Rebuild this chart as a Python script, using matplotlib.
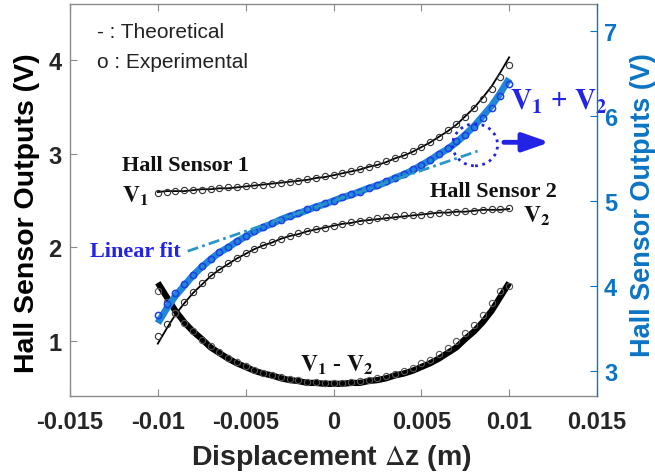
import numpy as np
import matplotlib
matplotlib.use("Agg")
import matplotlib.pyplot as plt
from matplotlib.patches import Ellipse

plt.rcParams['font.family'] = ['Liberation Sans', 'DejaVu Sans']
plt.rcParams['axes.unicode_minus'] = False
plt.rcParams['mathtext.fontset'] = 'stix'

# ---------------- data ----------------
z = [-0.0100, -0.0095, -0.0090, -0.0085, -0.0080, -0.0075, -0.0070, -0.0065,
     -0.0060, -0.0055, -0.0050, -0.0045, -0.0040, -0.0035, -0.0030, -0.0025,
     -0.0020, -0.0015, -0.0010, -0.0005, 0.0000, 0.0005, 0.0010, 0.0015,
     0.0020, 0.0025, 0.0030, 0.0035, 0.0040, 0.0045, 0.0050, 0.0055, 0.0060,
     0.0065, 0.0070, 0.0075, 0.0080, 0.0085, 0.0090, 0.0095, 0.0100]

v1_theory = [2.59, 2.60, 2.60, 2.60, 2.61, 2.62, 2.62, 2.63, 2.63, 2.64, 2.65,
             2.66, 2.67, 2.68, 2.69, 2.70, 2.71, 2.72, 2.74, 2.75, 2.77, 2.79,
             2.81, 2.83, 2.86, 2.88, 2.91, 2.95, 2.98, 3.02, 3.07, 3.12, 3.18,
             3.24, 3.31, 3.40, 3.49, 3.60, 3.72, 3.87, 4.03]
v1_exp = [2.58, 2.59, 2.60, 2.61, 2.61, 2.61, 2.62, 2.63, 2.64, 2.64, 2.65,
          2.66, 2.67, 2.68, 2.69, 2.70, 2.71, 2.73, 2.74, 2.76, 2.77, 2.79,
          2.81, 2.84, 2.86, 2.89, 2.92, 2.95, 2.99, 3.03, 3.07, 3.13, 3.18,
          3.25, 3.32, 3.39, 3.49, 3.58, 3.69, 3.82, 3.95]

v2_theory = [0.97, 1.13, 1.28, 1.40, 1.51, 1.60, 1.69, 1.76, 1.82, 1.88, 1.93,
             1.98, 2.02, 2.05, 2.09, 2.12, 2.14, 2.17, 2.19, 2.21, 2.23, 2.25,
             2.26, 2.28, 2.29, 2.30, 2.31, 2.32, 2.33, 2.34, 2.35, 2.36, 2.37,
             2.37, 2.38, 2.38, 2.39, 2.40, 2.40, 2.40, 2.41]
v2_exp = [1.05, 1.18, 1.30, 1.42, 1.52, 1.62, 1.70, 1.77, 1.83, 1.89, 1.94,
          1.98, 2.02, 2.06, 2.09, 2.12, 2.15, 2.17, 2.19, 2.21, 2.23, 2.25,
          2.27, 2.28, 2.29, 2.31, 2.32, 2.33, 2.34, 2.35, 2.35, 2.36, 2.37,
          2.38, 2.38, 2.39, 2.39, 2.40, 2.41, 2.41, 2.42]

diff_theory = [1.62, 1.47, 1.32, 1.20, 1.10, 1.02, 0.93, 0.87, 0.81, 0.76, 0.72,
               0.68, 0.65, 0.63, 0.60, 0.58, 0.57, 0.55, 0.55, 0.54, 0.54, 0.54,
               0.55, 0.55, 0.57, 0.58, 0.60, 0.63, 0.65, 0.68, 0.72, 0.76, 0.81,
               0.87, 0.93, 1.02, 1.10, 1.20, 1.32, 1.47, 1.62]
diff_exp = [1.53, 1.41, 1.30, 1.19, 1.10, 1.01, 0.94, 0.88, 0.82, 0.77, 0.73,
            0.69, 0.66, 0.63, 0.61, 0.59, 0.58, 0.56, 0.56, 0.55, 0.55, 0.55,
            0.56, 0.57, 0.58, 0.60, 0.62, 0.65, 0.68, 0.71, 0.76, 0.80, 0.86,
            0.92, 1.00, 1.08, 1.17, 1.28, 1.40, 1.53, 1.59]

sum_theory = [3.56, 3.73, 3.88, 4.00, 4.12, 4.22, 4.31, 4.39, 4.45, 4.52, 4.58,
              4.64, 4.69, 4.73, 4.78, 4.82, 4.85, 4.89, 4.93, 4.96, 5.00, 5.04,
              5.07, 5.11, 5.15, 5.18, 5.22, 5.27, 5.31, 5.36, 5.42, 5.48, 5.55,
              5.61, 5.69, 5.78, 5.88, 6.00, 6.12, 6.27, 6.44]
sum_exp = [3.66, 3.79, 3.91, 4.02, 4.13, 4.23, 4.32, 4.40, 4.46, 4.53, 4.59,
           4.64, 4.69, 4.74, 4.78, 4.82, 4.86, 4.90, 4.93, 4.97, 5.00, 5.04,
           5.08, 5.11, 5.15, 5.19, 5.23, 5.27, 5.32, 5.37, 5.42, 5.48, 5.55,
           5.62, 5.70, 5.78, 5.87, 5.98, 6.09, 6.23, 6.38]

fit_slope = 71.5        # V/m
fit_intercept = 5.0     # V
fit_span = [-0.0083, 0.0082]

x_ticks = [-0.015, -0.01, -0.005, 0, 0.005, 0.01, 0.015]
x_ticklabels = ['-0.015', '-0.01', '-0.005', '0', '0.005', '0.01', '0.015']
left_ticks = [1, 2, 3, 4]
right_ticks = [3, 4, 5, 6, 7]

# ---------------- styles ----------------
BLUE_AX = '#0b74c4'
BLUE_TXT = '#2323e6'
BLUE_LINE = '#1f86d8'
BLUE_MK = '#1e3ee6'
FIT_C = '#2a96c8'
SPINE_C = '#8a8a8a'
TICK_TXT = '#262626'

fig = plt.figure(figsize=(6.55, 4.77), dpi=100)
ax = fig.add_axes([70/655, 1-397/477, 527/655, 392/477])
ax2 = ax.twinx()

# left axis curves
ax.plot(z, v1_theory, color='black', lw=1.3, zorder=3)
ax.plot(z, v1_exp, ls='none', marker='o', ms=4.5, mfc='none', mec='#333333', mew=0.8, zorder=4)
ax.plot(z, v2_theory, color='black', lw=1.3, zorder=3)
ax.plot(z, v2_exp, ls='none', marker='o', ms=4.5, mfc='none', mec='#333333', mew=0.8, zorder=4)
ax.plot(z, diff_theory, color='black', lw=4.5, solid_capstyle='butt', zorder=3)
ax.plot(z, diff_exp, ls='none', marker='o', ms=4.5, mfc='none', mec='#555555', mew=0.8, zorder=4)

# right axis curves
ax2.plot(z, sum_theory, color=BLUE_LINE, lw=5, solid_capstyle='butt', zorder=3)
ax2.plot(z, sum_exp, ls='none', marker='o', ms=4.5, mfc='none', mec=BLUE_MK, mew=1.1, zorder=4)
fz = np.array(fit_span)
ax2.plot(fz, fit_slope*fz + fit_intercept, color=FIT_C, lw=2,
         ls=(0, (4, 1.5, 1, 1.5)), zorder=5)
ax2.add_patch(Ellipse((0.00806, 5.66), 0.00256, 0.494, fill=False, ls=':',
                      lw=2, ec=BLUE_TXT, zorder=6))
ax2.annotate('', xy=(0.0123, 5.69), xytext=(0.0097, 5.69),
             arrowprops=dict(arrowstyle='-|>,head_length=0.8,head_width=0.28',
                             lw=3.5, color=BLUE_TXT, mutation_scale=20,
                             shrinkA=0, shrinkB=0), zorder=6)

# axes limits and ticks
ax.set_xlim(-0.015, 0.015)
ax.set_ylim(0.41, 4.6)
ax2.set_ylim(2.7, 7.32)
ax.set_xticks(x_ticks)
ax.set_xticklabels(x_ticklabels)
ax.set_yticks(left_ticks)
ax2.set_yticks(right_ticks)

for lab in ax.get_xticklabels() + ax.get_yticklabels() + ax2.get_yticklabels():
    lab.set_fontweight('bold')

ax.tick_params(axis='both', direction='in', length=5, width=0.8, color=SPINE_C,
               labelsize=17, labelcolor=TICK_TXT, top=True, right=False)
ax.tick_params(axis='x', pad=10)
ax.tick_params(axis='y', pad=6)
ax2.tick_params(axis='y', direction='in', length=5, width=0.8, color=BLUE_AX,
                labelsize=17, labelcolor=BLUE_AX, pad=5)

for s in ['left', 'bottom', 'top']:
    ax.spines[s].set_color(SPINE_C)
    ax.spines[s].set_linewidth(1.0)
ax.spines['right'].set_visible(False)
for s in ['left', 'bottom', 'top']:
    ax2.spines[s].set_visible(False)
ax2.spines['right'].set_color(BLUE_AX)
ax2.spines['right'].set_linewidth(1.0)

ax.set_xlabel('Displacement $\\Delta$z (m)', fontsize=20.5, fontweight='bold',
              color=TICK_TXT)
ax.xaxis.set_label_coords(0.497, -0.118)
ax.set_ylabel('Hall Sensor Outputs (V)', fontsize=20.5, fontweight='bold', color='black')
ax.yaxis.set_label_coords(-0.057, 0.47)
ax2.set_ylabel('Hall Sensor Outputs (V)', fontsize=19.5, fontweight='bold', color=BLUE_AX)
ax2.yaxis.set_label_coords(1.062, 0.49)

# annotations
serif = 'Liberation Serif'
ax.text(-0.01346, 4.31, '- : Theoretical', fontsize=15, color='#222222', va='center')
ax.text(-0.01346, 3.99, 'o : Experimental', fontsize=15, color='#222222', va='center')
ax.text(-0.01204, 2.88, 'Hall Sensor 1', family=serif, fontweight='bold',
        fontsize=16, va='center', color='#111111')
ax.text(-0.01204, 2.49, r'$\mathbf{V_1}$', fontsize=17, va='baseline', color='#111111')
ax.text(0.00549, 2.60, 'Hall Sensor 2', family=serif, fontweight='bold',
        fontsize=16, va='center', color='#111111')
ax.text(0.01080, 2.27, r'$\mathbf{V_2}$', fontsize=17, va='baseline', color='#111111')
ax.text(-0.01386, 1.96, 'Linear fit', family=serif, fontweight='bold',
        fontsize=16, va='center', color=BLUE_TXT)
ax.text(0.01005, 3.48, r'$\mathbf{V_1}$ + $\mathbf{V_2}$', family=serif,
        fontweight='bold', fontsize=21, va='baseline', color=BLUE_TXT, zorder=7)
ax.text(-0.00191, 0.68, r'$\mathbf{V_1}$ - $\mathbf{V_2}$', family=serif,
        fontweight='bold', fontsize=17, va='baseline', color='#111111')

fig.savefig('out.png', dpi=100)
